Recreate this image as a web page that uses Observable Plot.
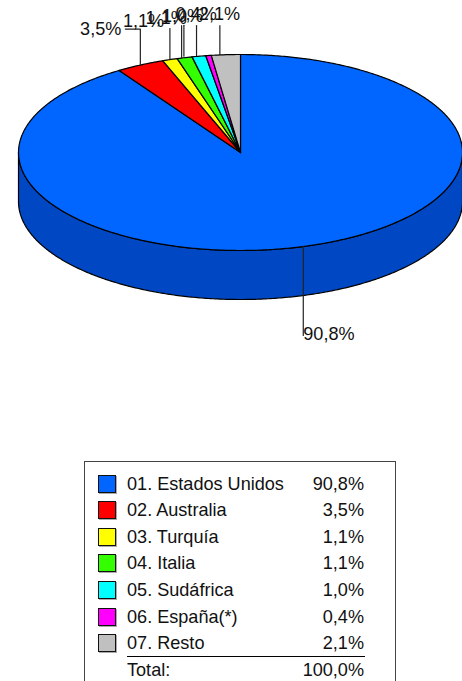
<!DOCTYPE html>
<html lang="es">
<head>
<meta charset="utf-8">
<script src="https://cdn.jsdelivr.net/npm/d3@7"></script>
<script src="https://cdn.jsdelivr.net/npm/@observablehq/plot@0.6"></script>
<style>
html,body{margin:0;padding:0;background:#fff;}
#page{position:relative;width:462px;height:681px;overflow:hidden;font-family:"Liberation Sans",Arial,sans-serif;color:#111;}
#chart svg{display:block;position:absolute;left:0;top:0;}
#legend{position:absolute;left:84px;top:461px;width:310px;height:240px;border:1px solid #444;box-sizing:content-box;}
.row{position:absolute;left:0;width:100%;height:26.6px;line-height:26.6px;font-size:18.1px;white-space:nowrap;}
.sw{position:absolute;left:13px;top:4px;width:16px;height:16px;border:1px solid #111;box-shadow:1px 1px 0 #aaa;}
.nm{position:absolute;left:42px;}
.vl{position:absolute;right:31px;}
.rule{position:absolute;left:42px;width:238px;height:1px;background:#000;}
</style>
</head>
<body>
<div id="page"><div id="chart"></div><div id="legend"></div></div>
<script>
const names = ["01. Estados Unidos","02. Australia","03. Turquía","04. Italia","05. Sudáfrica","06. España(*)","07. Resto"];
const values = [90.8,3.5,1.1,1.1,1.0,0.4,2.1];
const valueLabels = ["90,8%","3,5%","1,1%","1,1%","1,0%","0,4%","2,1%"];
const totalName = "Total:";
const totalLabel = "100,0%";
const colors = ["#0066ff","#ff0000","#ffff00","#33ff00","#00ffff","#ff00ff","#c0c0c0"];
const wallColor = "#0047c4";

// Pie geometry, in pixels per unit of the elliptical pie
const RY = 98, RX = 222, DEPTH = 49 / RY;
const font = '"Liberation Sans",Arial,sans-serif';
const ink = "#111";
const edge = {stroke: "#000", strokeWidth: 1.2, strokeLinejoin: "round"};

// Slices run clockwise from the top of the pie
const total = d3.sum(values);
let acc = 0;
const slices = values.map((v, i) => {
  const a0 = acc / total * 2 * Math.PI;
  acc += v;
  const a1 = acc / total * 2 * Math.PI;
  return {i, a0, a1, mid: (a0 + a1) / 2};
});
const rim = (a, drop = 0) => ({x: Math.sin(a), y: Math.cos(a) - drop});
const arc = (a0, a1, drop = 0) => {
  const n = Math.max(2, Math.ceil(Math.abs(a1 - a0) / 0.01));
  return d3.range(n + 1).map(k => rim(a0 + (a1 - a0) * k / n, drop));
};
const line = (pts, o) => Plot.line(pts, {x: "x", y: "y", curve: "linear", ...o});

const wedge = s => [{x: 0, y: 0}, ...arc(s.a0, s.a1), {x: 0, y: 0}];
const wallPts = [...arc(Math.PI / 2, 3 * Math.PI / 2), ...arc(3 * Math.PI / 2, Math.PI / 2, DEPTH)];
wallPts.push(wallPts[0]);

// Label placement relative to each slice's rim point (pixels): leader shift, leader length, text offset
const layout = [
  {shift: -0.5, len: 89, tx: 0,   ty: 88,  anchor: "start"},
  {shift: 0,    len: 36, tx: -19, ty: -36, anchor: "end", elbow: 15},
  {shift: 0,    len: 31, tx: -47, ty: -38.5, anchor: "start"},
  {shift: -3,   len: 32, tx: -36, ty: -39.5, anchor: "start"},
  {shift: -15,  len: 31, tx: -22, ty: -40, anchor: "start"},
  {shift: -12,  len: 30, tx: -21, ty: -41, anchor: "start"},
  {shift: -6,   len: 29, tx: -21, ty: -41, anchor: "start"}
];

const marks = [
  line(wallPts, {fill: wallColor, ...edge}),
  ...slices.map(s => line(wedge(s), {fill: colors[s.i], ...edge})),
  ...slices.flatMap(s => {
    const L = layout[s.i], p = rim(s.mid);
    const sign = p.y < 0 ? -1 : 1;
    const end = {x: p.x, y: p.y + sign * L.len / RY};
    const pts = L.elbow ? [p, end, {x: end.x - L.elbow / RX, y: end.y}] : [p, end];
    return [
      line(pts, {dx: L.shift, stroke: "#222", strokeWidth: 1.2}),
      Plot.text([valueLabels[s.i]], {
        x: () => p.x, y: () => p.y, dx: L.shift + L.tx, dy: L.ty,
        textAnchor: L.anchor, fontSize: 18.1, fontFamily: font, fill: ink
      })
    ];
  })
];

const chart = Plot.plot({
  width: 462, height: 460,
  margin: 0,
  x: {domain: [-1, 1], range: [18, 462], axis: null},
  y: {domain: [-1, 1], range: [250, 54], axis: null},
  marks
});
document.getElementById("chart").append(chart);

const legend = document.getElementById("legend");
const rowTop = i => 8.5 + i * 26.6;
names.forEach((n, i) => {
  const r = document.createElement("div");
  r.className = "row";
  r.style.top = rowTop(i) + "px";
  r.innerHTML = `<span class="sw" style="background:${colors[i]}"></span><span class="nm">${n}</span><span class="vl">${valueLabels[i]}</span>`;
  legend.append(r);
});
const t = document.createElement("div");
t.className = "row";
t.style.top = rowTop(names.length) + "px";
t.innerHTML = `<span class="nm">${totalName}</span><span class="vl">${totalLabel}</span>`;
legend.append(t);
const ru = document.createElement("div");
ru.className = "rule";
ru.style.top = "194px";
legend.append(ru);
</script>
</body>
</html>
